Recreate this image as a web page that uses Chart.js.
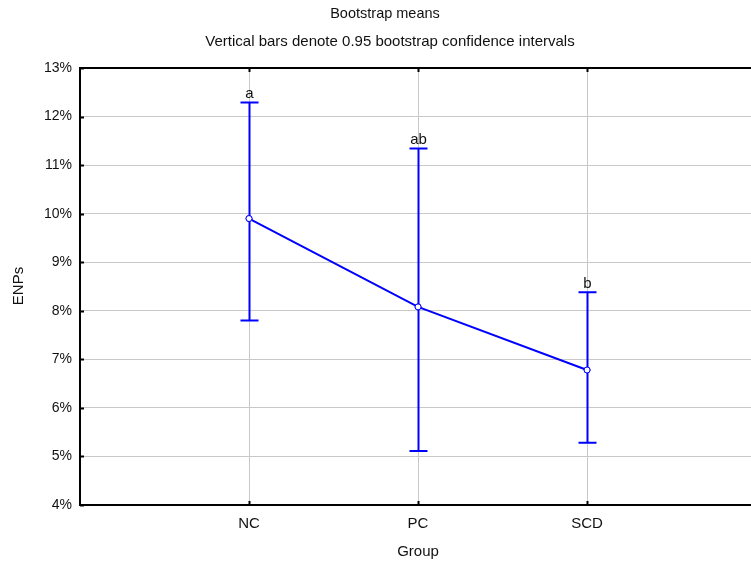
<!DOCTYPE html>
<html lang="en">
  <head>
    <meta charset="UTF-8" />
    <title>Bootstrap means</title>
    <style>
      body {
        margin: 0;
        padding: 0;
        background: #fff;
      }
      .chart-box {
        width: 751px;
        height: 567px;
      }
    </style>
  </head>
  <body>
    <div class="chart-box">
      <canvas id="meansChart"></canvas>
    </div>

    <script src="https://cdn.jsdelivr.net/npm/chart.js"></script>
    <script>
      const groups = ["NC", "PC", "SCD"];
      const means = [9.9, 8.08, 6.78];
      const lower = [7.8, 5.11, 5.28];
      const upper = [12.29, 11.34, 8.38];
      const letters = ["a", "ab", "b"];
      const yTicks = [4, 5, 6, 7, 8, 9, 10, 11, 12, 13];

      const FONT = "'Liberation Sans', Arial, sans-serif";
      const BLUE = "#0000ff";

      // error bars, group letters, frame and inward tick marks
      const decor = {
        id: "decor",
        afterDatasetsDraw(chart) {
          const ctx = chart.ctx;
          const x = chart.scales.x;
          const y = chart.scales.y;
          const area = chart.chartArea;

          ctx.save();
          ctx.strokeStyle = BLUE;
          ctx.lineWidth = 2;
          groups.forEach((g, i) => {
            const px = Math.round(x.getPixelForValue(i + 1)) + 0.5;
            const top = y.getPixelForValue(upper[i]);
            const bot = y.getPixelForValue(lower[i]);
            ctx.beginPath();
            ctx.moveTo(px, top);
            ctx.lineTo(px, bot);
            ctx.moveTo(px - 9, top);
            ctx.lineTo(px + 9, top);
            ctx.moveTo(px - 9, bot);
            ctx.lineTo(px + 9, bot);
            ctx.stroke();

            ctx.fillStyle = "#111";
            ctx.font = "15px " + FONT;
            ctx.textAlign = "center";
            ctx.textBaseline = "bottom";
            ctx.fillText(letters[i], px, top - 1);
          });
          ctx.restore();

          // redraw the points on top of the error bars
          const meta = chart.getDatasetMeta(0);
          meta.data.forEach((pt) => pt.draw(ctx, area));
        },
        afterDraw(chart) {
          const ctx = chart.ctx;
          const x = chart.scales.x;
          const y = chart.scales.y;
          const a = chart.chartArea;

          ctx.save();
          ctx.strokeStyle = "#000";
          ctx.lineWidth = 2;
          ctx.beginPath();
          ctx.moveTo(chart.width, a.top);
          ctx.lineTo(a.left, a.top);
          ctx.lineTo(a.left, a.bottom);
          ctx.lineTo(chart.width, a.bottom);
          ctx.stroke();

          ctx.beginPath();
          yTicks.forEach((v) => {
            const py = Math.round(y.getPixelForValue(v)) + 0.5;
            ctx.moveTo(a.left, py);
            ctx.lineTo(a.left + 4, py);
          });
          groups.forEach((g, i) => {
            const px = Math.round(x.getPixelForValue(i + 1)) + 0.5;
            ctx.moveTo(px, a.top);
            ctx.lineTo(px, a.top + 4);
            ctx.moveTo(px, a.bottom);
            ctx.lineTo(px, a.bottom - 4);
          });
          ctx.stroke();

          // titles
          ctx.fillStyle = "#111";
          ctx.textAlign = "center";
          ctx.textBaseline = "middle";
          ctx.font = "14.5px " + FONT;
          ctx.fillText("Bootstrap means", 385, 14);
          ctx.font = "15px " + FONT;
          ctx.fillText(
            "Vertical bars denote 0.95 bootstrap confidence intervals",
            390,
            42
          );
          ctx.fillText("Group", 418, 552);

          ctx.translate(19, 286);
          ctx.rotate(-Math.PI / 2);
          ctx.fillText("ENPs", 0, 0);
          ctx.restore();
        },
      };

      new Chart(document.getElementById("meansChart"), {
        type: "line",
        data: {
          datasets: [
            {
              data: groups.map((g, i) => ({ x: i + 1, y: means[i] })),
              borderColor: BLUE,
              borderWidth: 2,
              pointRadius: 3,
              pointBackgroundColor: "#fff",
              pointBorderColor: BLUE,
              pointBorderWidth: 1,
              tension: 0,
            },
          ],
        },
        options: {
          responsive: true,
          maintainAspectRatio: false,
          animation: false,
          layout: {
            autoPadding: false,
            padding: { top: 68, right: 0, left: 0, bottom: 0 },
          },
          plugins: {
            legend: { display: false },
            tooltip: { enabled: false },
          },
          scales: {
            x: {
              type: "linear",
              min: 0,
              max: 3.97,
              afterBuildTicks: (scale) => {
                scale.ticks = groups.map((g, i) => ({ value: i + 1 }));
              },
              afterFit: (scale) => {
                scale.height = 62;
                scale.paddingLeft = 0;
                scale.paddingRight = 0;
              },
              grid: {
                color: "#c8c8c8",
                lineWidth: 1,
                drawTicks: false,
              },
              border: { display: false },
              ticks: {
                padding: 10,
                color: "#111",
                font: { family: FONT, size: 15 },
                callback: (v) => groups[v - 1],
              },
            },
            y: {
              min: 4,
              max: 13,
              afterBuildTicks: (scale) => {
                scale.ticks = yTicks.map((v) => ({ value: v }));
              },
              afterFit: (scale) => {
                scale.width = 80;
                scale.paddingTop = 0;
                scale.paddingBottom = 0;
              },
              grid: {
                color: "#c8c8c8",
                lineWidth: 1,
                drawTicks: false,
              },
              border: { display: false },
              ticks: {
                padding: 8,
                color: "#111",
                font: { family: FONT, size: 14 },
                callback: (v) => v + "%",
              },
            },
          },
        },
        plugins: [decor],
      });
    </script>
  </body>
</html>
